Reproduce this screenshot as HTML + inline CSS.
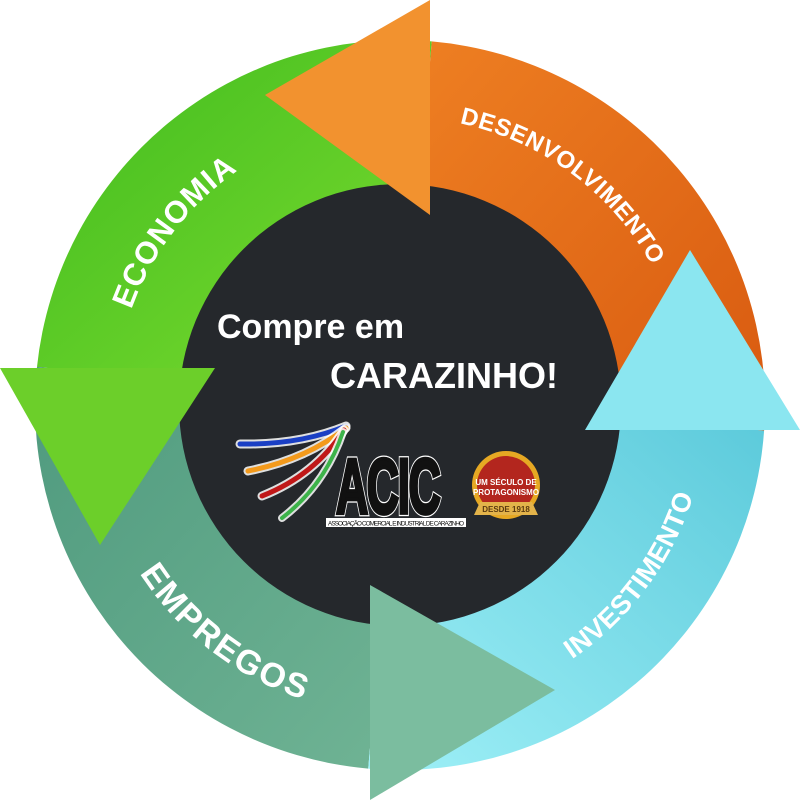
<!DOCTYPE html>
<html><head><meta charset="utf-8"><style>
html,body{margin:0;padding:0;background:#fff;width:800px;height:800px;overflow:hidden}
svg{display:block}
</style></head><body>
<svg width="800" height="800" viewBox="0 0 800 800" xmlns="http://www.w3.org/2000/svg" font-family="Liberation Sans, sans-serif">
<defs>
<linearGradient id="gG" x1="0" y1="0" x2="1" y2="1"><stop offset="0" stop-color="#3fbb1f"/><stop offset="1" stop-color="#7ddc2f"/></linearGradient>
<linearGradient id="gT" x1="0" y1="0" x2="1" y2="1"><stop offset="0" stop-color="#4f9a7e"/><stop offset="1" stop-color="#6fb394"/></linearGradient>
<linearGradient id="gC" x1="0" y1="1" x2="1" y2="0"><stop offset="0" stop-color="#9ff0f7"/><stop offset="1" stop-color="#5ccadb"/></linearGradient>
<linearGradient id="gO" x1="0" y1="0" x2="1" y2="1"><stop offset="0" stop-color="#ee7f22"/><stop offset="1" stop-color="#d85a10"/></linearGradient>
<path id="pE" d="M119.3,355.5 A285,285 0 0 1 279.6,146.7"/>
<path id="pD" d="M425.1,118.1 A288,288 0 0 1 667.0,297.1"/>
<path id="pI" d="M529.7,683.2 A307,307 0 0 0 704.0,447.7"/>
<path id="pM" d="M119.0,536.0 A310,310 0 0 0 346.2,710.3"/>
</defs>
<path d="M431.8,41.4 A365,365 0 0 0 37.0,366.9 L181.2,382.0 A220,220 0 0 1 419.2,185.8 Z" fill="url(#gG)"/>
<path d="M37.0,366.9 A365,365 0 0 0 368.2,768.6 L380.8,624.2 A220,220 0 0 1 181.2,382.0 Z" fill="url(#gT)"/>
<path d="M368.2,768.6 A365,365 0 0 0 764.1,430.5 L619.5,420.4 A220,220 0 0 1 380.8,624.2 Z" fill="url(#gC)"/>
<path d="M764.1,430.5 A365,365 0 0 0 431.8,41.4 L419.2,185.8 A220,220 0 0 1 619.5,420.4 Z" fill="url(#gO)"/>
<circle cx="400" cy="405" r="221" fill="#25282c"/>
<polygon points="0,368 215,368 100,545" fill="#6ccf2a"/>
<polygon points="370,585 370,800 555,690" fill="#7bbd9f"/>
<polygon points="585,430 800,430 690,250" fill="#8be6f0"/>
<polygon points="430,0 430,215 265,95" fill="#f2922f"/>
<g fill="#fff" font-weight="bold">
<text font-size="31" letter-spacing="1" text-anchor="middle"><textPath href="#pE" startOffset="50%">ECONOMIA</textPath></text>
<text font-size="24" letter-spacing="0.5" text-anchor="middle"><textPath href="#pD" startOffset="50%">DESENVOLVIMENTO</textPath></text>
<text font-size="27" letter-spacing="0.5" text-anchor="middle"><textPath href="#pI" startOffset="50%">INVESTIMENTO</textPath></text>
<text font-size="34" letter-spacing="2" text-anchor="middle"><textPath href="#pM" startOffset="50%">EMPREGOS</textPath></text>
</g>
<text x="217" y="338" font-size="34" font-weight="bold" fill="#fff">Compre em</text>
<text x="330" y="388" font-size="36" font-weight="bold" fill="#fff">CARAZINHO!</text>
<g fill="none" stroke-linecap="round">
<path d="M240,444 Q300,445 346,426" stroke="#fff" stroke-width="9" opacity=".85"/>
<path d="M240,444 Q300,445 346,426" stroke="#1a3fc4" stroke-width="5"/>
<path d="M248,471 Q305,460 346,428" stroke="#fff" stroke-width="9" opacity=".85"/>
<path d="M248,471 Q305,460 346,428" stroke="#f39a1c" stroke-width="5"/>
<path d="M262,496 Q315,475 344,430" stroke="#fff" stroke-width="9" opacity=".85"/>
<path d="M262,496 Q315,475 344,430" stroke="#c01818" stroke-width="5"/>
<path d="M282,518 Q325,485 343,432" stroke="#fff" stroke-width="8" opacity=".85"/>
<path d="M282,518 Q325,485 343,432" stroke="#3db34a" stroke-width="4"/>
</g>
<text transform="translate(336,513) scale(0.72,1.25)" font-size="62" font-weight="bold" fill="#111" stroke="#fff" stroke-width="5" paint-order="stroke" letter-spacing="-2">ACIC</text>
<text transform="translate(336,513) scale(0.72,1.25)" font-size="62" font-weight="bold" fill="#111" stroke="#111" stroke-width="3" letter-spacing="-2">ACIC</text>
<rect x="326" y="518" width="140" height="9" fill="#fff"/>
<text x="328" y="525.5" font-size="6.3" fill="#111" textLength="136">ASSOCIAÇÃO COMERCIAL E INDUSTRIAL DE CARAZINHO</text>
<circle cx="506" cy="485" r="34" fill="#e6a823"/>
<circle cx="506" cy="485" r="29" fill="#b3261e"/>
<text x="506" y="485" font-size="8" font-weight="bold" fill="#fff" text-anchor="middle">UM SÉCULO DE</text>
<text x="506" y="495" font-size="8" font-weight="bold" fill="#fff" text-anchor="middle">PROTAGONISMO</text>
<path d="M480,502 L532,502 L538,515 L474,515 Z" fill="#e3b34a"/>
<text x="506" y="512" font-size="8" font-weight="bold" fill="#5a3a10" text-anchor="middle">DESDE 1918</text>
</svg>
</body></html>
